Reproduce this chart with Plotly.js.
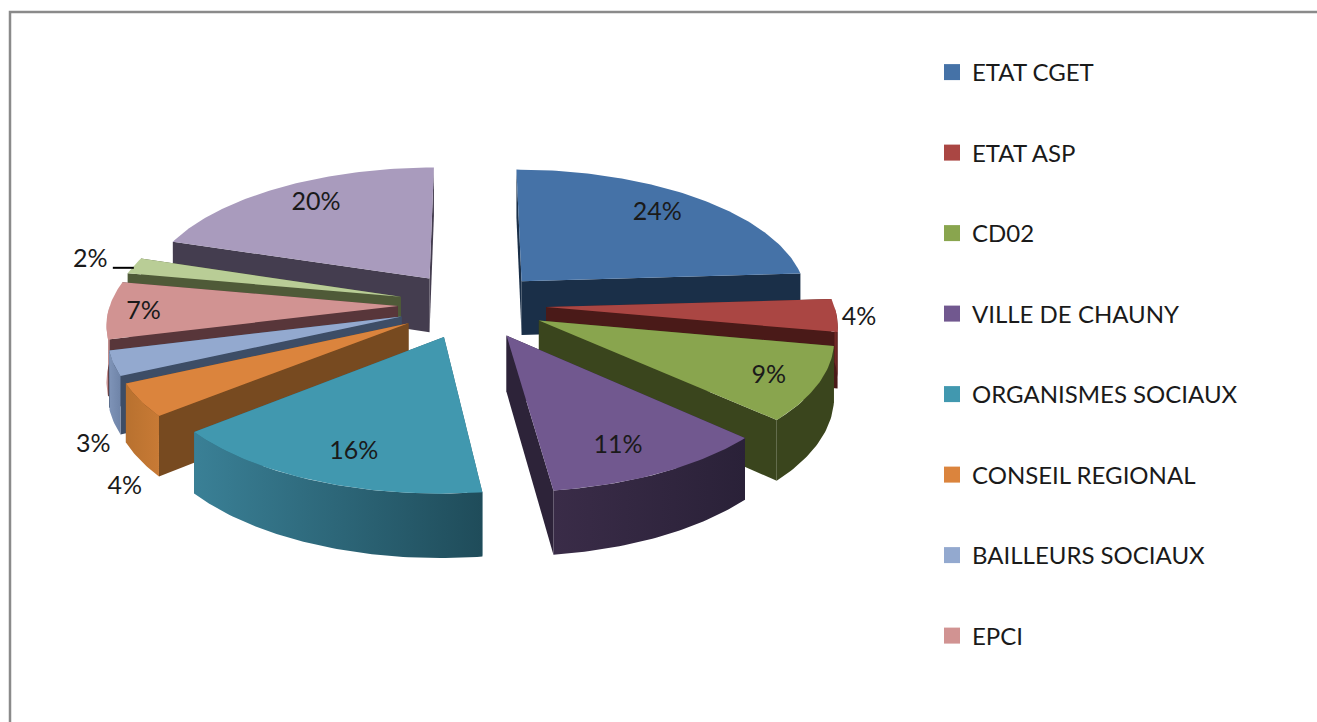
<!DOCTYPE html>
<html><head><meta charset="utf-8">
<script src="https://cdn.plot.ly/plotly-3.0.1.min.js"></script>
<style>html,body{margin:0;padding:0;background:#fff;overflow:hidden}</style>
</head><body><div id="chart" style="width:1317px;height:722px"></div>
<script>
// --- data ---
const categories = ["ETAT CGET","ETAT ASP","CD02","VILLE DE CHAUNY","ORGANISMES SOCIAUX","CONSEIL REGIONAL","BAILLEURS SOCIAUX","EPCI","Autre 1","Autre 2"];
const shares = [24,4,9,11,16,4,3,7,2,20];
const legendCount = 8;
// --- styles ---
const topColors  = ["#4572a7","#aa4643","#89a54e","#71588f","#4198af","#db843d","#93a9cf","#d19392","#b9cd96","#a99bbd"];
const cutColors  = ["#1a2f48","#4a1a18","#3a451d","#2d2339","#2a6070","#774a20","#3d4d66","#58363a","#4f5a38","#443d4f"];
const rimLeft    = ["#1a2f48","#7a2a28","#3a451d","#3a2c48","#3a8096","#b8712f","#7f94b8","#c49090","#4f5a38","#8d80a0"];
const rimRight   = ["#1a2f48","#5e2220","#3a451d","#2a2138","#1f4c5a","#c87a35","#6f84a8","#c49090","#4f5a38","#8d80a0"];
const labelRadius = [0.82,1.10,0.86,0.81,0.81,1.06,1.09,0.90,1.18,0.86];
const labelShiftX = [-9,-7,-8,-11,10,2,7,6,3,15];
const labelShiftY = [2,3,2,3,2,83,78,3,0,5];
const view = {cx:472, cy:305, R:288, Rt:130, persp:0.118, depth:55, explode:0.257};
const fontFace = "Lato, 'Open Sans', sans-serif";

function project(u,v,z){
  const s = 1/(1-view.persp*v);
  return [view.cx+view.R*u*s, view.cy+view.Rt*v*s+z*view.depth*s];
}
const total = shares.reduce((a,b)=>a+b,0);
let run = 0;
const slices = shares.map((val,i)=>{
  const a0 = run/total*2*Math.PI; run += val;
  const a1 = run/total*2*Math.PI;
  return {i,val,a0,a1,mid:(a0+a1)/2};
});
function point(sl,ang,r,z){
  const u = view.explode*Math.sin(sl.mid)+r*Math.sin(ang);
  const v = -view.explode*Math.cos(sl.mid)-r*Math.cos(ang);
  return project(u,v,z);
}
function poly(pts,extra){
  return Object.assign({type:'scatter',mode:'lines',x:pts.map(p=>p[0]),y:pts.map(p=>p[1]),
    fill:'toself',line:{width:0},showlegend:false,hoverinfo:'skip'},extra);
}
const traces = [];
const order = slices.slice().sort((a,b)=>Math.cos(b.mid)-Math.cos(a.mid));
order.forEach(sl=>{
  const i = sl.i;
  const edges = [sl.a0,sl.a1].map(a=>({a,v:-Math.cos(a)})).sort((p,q)=>p.v-q.v);
  edges.forEach(ed=>{
    traces.push(poly([point(sl,0,0,0),point(sl,ed.a,1,0),point(sl,ed.a,1,1),point(sl,0,0,1)],{fillcolor:cutColors[i]}));
  });
  // the rim is seen only on the half of the pie that faces the viewer
  const from = Math.max(sl.a0,Math.PI/2), to = Math.min(sl.a1,3*Math.PI/2);
  if(to>from){
    const steps = Math.max(6,Math.round(sl.val*4));
    const arcTop=[], arcBot=[];
    for(let k=0;k<=steps;k++){
      const a = from+(to-from)*k/steps;
      arcTop.push(point(sl,a,1,0)); arcBot.push(point(sl,a,1,1));
    }
    traces.push(poly(arcTop.concat(arcBot.slice().reverse()),{fillgradient:{type:'horizontal',
      colorscale:[[0,rimLeft[i]],[1,rimRight[i]]]}}));
  }
  const arc=[];
  const n = Math.max(6,Math.round(sl.val*4));
  for(let k=0;k<=n;k++) arc.push(point(sl,sl.a0+(sl.a1-sl.a0)*k/n,1,0));
  traces.push(poly([point(sl,0,0,0)].concat(arc),{fillcolor:topColors[i]}));
});
// percentage labels
traces.push({type:'scatter',mode:'text',hoverinfo:'skip',showlegend:false,
  x:slices.map(sl=>point(sl,sl.mid,labelRadius[sl.i],0)[0]+labelShiftX[sl.i]),
  y:slices.map(sl=>point(sl,sl.mid,labelRadius[sl.i],0)[1]+labelShiftY[sl.i]),
  text:shares.map(v=>v+'%'),textposition:'middle center',
  textfont:{family:fontFace,size:25,color:'#1a1a1a'}});
// leader line of the small slice
const leader = point(slices[8],slices[8].mid,1,0);
traces.push({type:'scatter',mode:'lines',hoverinfo:'skip',showlegend:false,
  x:[leader[0]-21,leader[0]],y:[leader[1]+2,leader[1]+2],line:{color:'#000',width:2}});
// legend entries
categories.slice(0,legendCount).forEach((name,i)=>{
  traces.push({type:'scatter',mode:'markers',x:[null],y:[null],name,legendgroup:'g'+i,
    marker:{symbol:'square',size:16,color:topColors[i]},hoverinfo:'skip'});
});
const layout = {
  width:1317,height:722,margin:{l:0,r:0,t:0,b:0},paper_bgcolor:'#fff',plot_bgcolor:'#fff',
  xaxis:{range:[0,1317],visible:false,fixedrange:true},
  yaxis:{range:[722,0],visible:false,fixedrange:true},
  shapes:[{type:'rect',xref:'x',yref:'y',x0:10,y0:12,x1:1345,y1:745,line:{color:'#8a8a8a',width:2.5}}],
  legend:{x:932/1317,y:1-50/722,xanchor:'left',yanchor:'top',bgcolor:'rgba(0,0,0,0)',
    font:{family:fontFace,size:24,color:'#1a1a1a'},tracegroupgap:46.3,itemwidth:30,traceorder:'grouped'},
  showlegend:true
};
Plotly.newPlot('chart',traces,layout,{displayModeBar:false,staticPlot:true});
</script></body></html>
